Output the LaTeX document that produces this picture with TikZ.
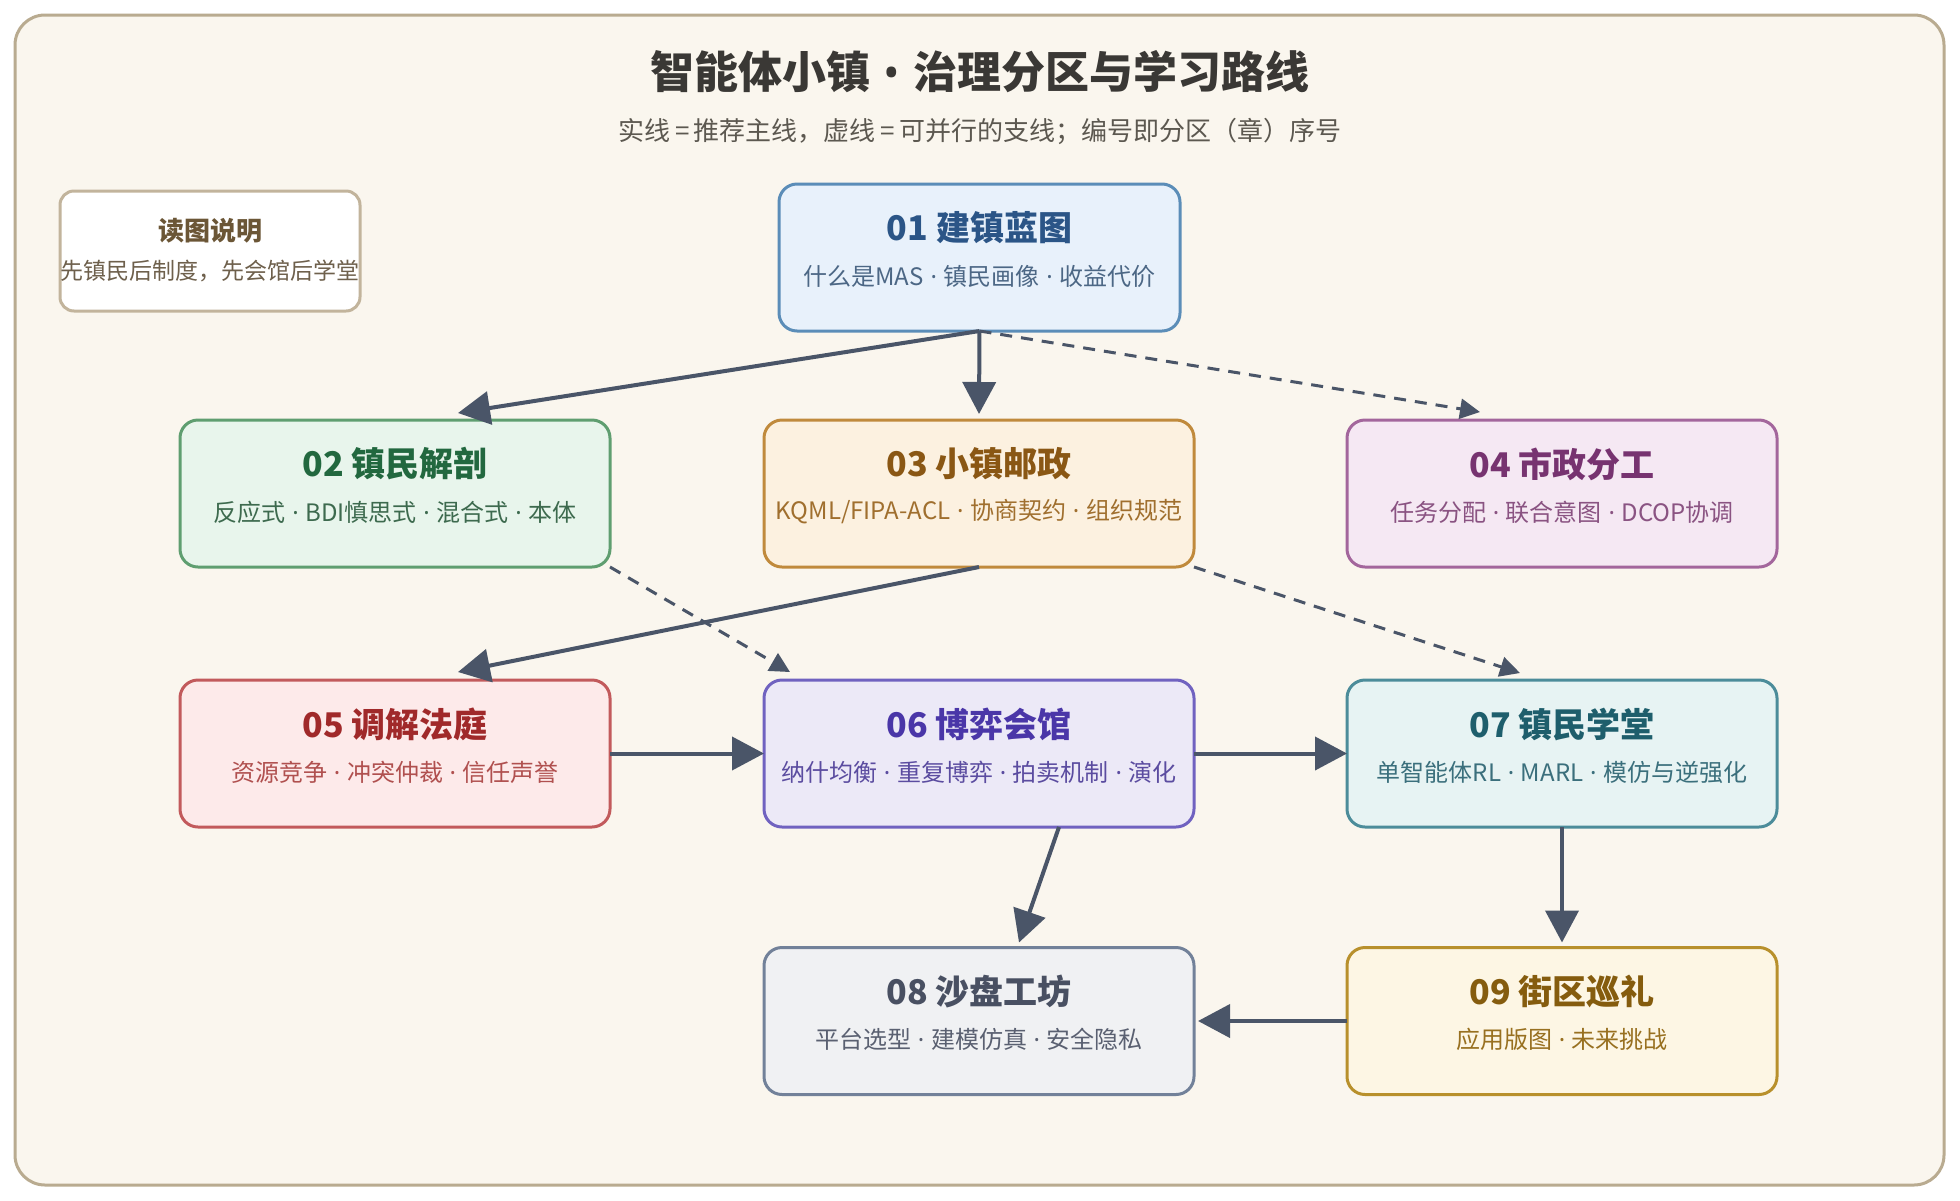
\documentclass[tikz,border=0pt]{standalone}
\usepackage{fontspec}
\setmainfont{Noto Sans CJK SC}
\newfontfamily\latinfont{Noto Sans}
\newcommand\dotsep{\hspace{0.28em}{\latinfont ·}\hspace{0.28em}}
\usetikzlibrary{arrows.meta,calc}

\definecolor{pagebg}{HTML}{FFFFFF}
\definecolor{framefill}{HTML}{FAF6EE}
\definecolor{framedraw}{HTML}{B9AB90}
\definecolor{titlecol}{HTML}{3A3835}
\definecolor{subcol}{HTML}{5C5850}
\definecolor{arrowcol}{HTML}{4A5568}
\definecolor{legdraw}{HTML}{C2B49C}
\definecolor{legtitle}{HTML}{6B5636}
\definecolor{legtext}{HTML}{6E604C}
% box palettes
\definecolor{f01}{HTML}{E8F1FB}\definecolor{d01}{HTML}{5B8DB8}\definecolor{t01}{HTML}{2B5587}\definecolor{s01}{HTML}{4C6785}
\definecolor{f02}{HTML}{E8F5EC}\definecolor{d02}{HTML}{5F9E70}\definecolor{t02}{HTML}{22683F}\definecolor{s02}{HTML}{3D6A4E}
\definecolor{f03}{HTML}{FCF1E0}\definecolor{d03}{HTML}{C08A3C}\definecolor{t03}{HTML}{8A5714}\definecolor{s03}{HTML}{A06F2E}
\definecolor{f04}{HTML}{F5E8F3}\definecolor{d04}{HTML}{A3669C}\definecolor{t04}{HTML}{773370}\definecolor{s04}{HTML}{8A5382}
\definecolor{f05}{HTML}{FDEAEA}\definecolor{d05}{HTML}{C25A5C}\definecolor{t05}{HTML}{A0292A}\definecolor{s05}{HTML}{B0504F}
\definecolor{f06}{HTML}{ECE9F7}\definecolor{d06}{HTML}{7062C0}\definecolor{t06}{HTML}{4A36A8}\definecolor{s06}{HTML}{5B4CA0}
\definecolor{f07}{HTML}{E7F3F3}\definecolor{d07}{HTML}{4C8C9A}\definecolor{t07}{HTML}{1E5E6C}\definecolor{s07}{HTML}{3B6F7C}
\definecolor{f08}{HTML}{F0F1F3}\definecolor{d08}{HTML}{728199}\definecolor{t08}{HTML}{495062}\definecolor{s08}{HTML}{5A6071}
\definecolor{f09}{HTML}{FDF6E4}\definecolor{d09}{HTML}{B8902C}\definecolor{t09}{HTML}{855C0E}\definecolor{s09}{HTML}{987020}

\begin{document}
\begin{tikzpicture}[x=0.5pt,y=-0.5pt,
  zone/.style={draw=#1, line width=1.5pt, rounded corners=9pt,
    minimum width=215pt, minimum height=73.5pt, inner sep=0pt, outer sep=0pt},
  zonetitle/.style={font=\fontsize{17pt}{20pt}\selectfont\bfseries, text=#1, inner sep=0pt},
  zonesub/.style={font=\fontsize{12pt}{14pt}\selectfont, text=#1, inner sep=0pt},
  mainarrow/.style={draw=arrowcol, line width=2pt, -{Triangle[length=16pt,width=16.5pt]}},
  sidearrow/.style={draw=arrowcol, line width=1.5pt, dash pattern=on 6pt off 4.5pt,
    -{Triangle[length=10pt,width=10pt]}}
]
% canvas
\fill[pagebg] (0,0) rectangle (1960,1200);
\useasboundingbox (0,0) rectangle (1960,1200);
\draw[fill=framefill, draw=framedraw, line width=1.5pt, rounded corners=15pt] (15,15) rectangle (1944,1185);

% title
\node[font=\fontsize{22pt}{26pt}\selectfont\bfseries, text=titlecol, inner sep=0pt] (title) at (980,72) {智能体小镇\hspace{0.3em}{\latinfont •}\hspace{0.3em}治理分区与学习路线};
\node[font=\fontsize{13pt}{16pt}\selectfont, text=subcol, inner sep=0pt] (subtitle) at (980,131) {实线\,=\,推荐主线，虚线\,=\,可并行的支线；编号即分区（章）序号};

% legend
\node[draw=legdraw, fill=white, line width=1.5pt, rounded corners=7pt, minimum width=150pt, minimum height=60pt, inner sep=0pt] (legend) at (210,251) {};
\node[font=\fontsize{13pt}{16pt}\selectfont\bfseries, text=legtitle, inner sep=0pt] (legt) at (210,231) {读图说明};
\node[font=\fontsize{11.5pt}{14pt}\selectfont, text=legtext, inner sep=0pt] (legs) at (210,271) {先镇民后制度，先会馆后学堂};

% boxes
\node[zone=d01, fill=f01, minimum width=200.5pt] (b01) at (979.5,257.5) {};
\node[zone=d02, fill=f02] (b02) at (395,493.5) {};
\node[zone=d03, fill=f03] (b03) at (979,493.5) {};
\node[zone=d04, fill=f04] (b04) at (1562,493.5) {};
\node[zone=d05, fill=f05] (b05) at (395,753.5) {};
\node[zone=d06, fill=f06] (b06) at (979,753.5) {};
\node[zone=d07, fill=f07] (b07) at (1562,753.5) {};
\node[zone=d08, fill=f08] (b08) at (979,1021) {};
\node[zone=d09, fill=f09] (b09) at (1562,1021) {};

% box texts
\node[zonetitle=t01] (n01) at ($(b01.north)+(0,44)$) {01 建镇蓝图};
\node[zonesub=s01] (m01) at ($(b01.north)+(0,92)$) {什么是MAS\dotsep 镇民画像\dotsep 收益代价};
\node[zonetitle=t02] (n02) at ($(b02.north)+(0,44)$) {02 镇民解剖};
\node[zonesub=s02] (m02) at ($(b02.north)+(0,92)$) {反应式\dotsep BDI慎思式\dotsep 混合式\dotsep 本体};
\node[zonetitle=t03] (n03) at ($(b03.north)+(0,44)$) {03 小镇邮政};
\node[zonesub=s03] (m03) at ($(b03.north)+(0,92)$) {KQML/FIPA-ACL\dotsep 协商契约\dotsep 组织规范};
\node[zonetitle=t04] (n04) at ($(b04.north)+(0,44)$) {04 市政分工};
\node[zonesub=s04] (m04) at ($(b04.north)+(0,92)$) {任务分配\dotsep 联合意图\dotsep DCOP协调};
\node[zonetitle=t05] (n05) at ($(b05.north)+(0,44)$) {05 调解法庭};
\node[zonesub=s05] (m05) at ($(b05.north)+(0,92)$) {资源竞争\dotsep 冲突仲裁\dotsep 信任声誉};
\node[zonetitle=t06] (n06) at ($(b06.north)+(0,44)$) {06 博弈会馆};
\node[zonesub=s06] (m06) at ($(b06.north)+(0,92)$) {纳什均衡\dotsep 重复博弈\dotsep 拍卖机制\dotsep 演化};
\node[zonetitle=t07] (n07) at ($(b07.north)+(0,44)$) {07 镇民学堂};
\node[zonesub=s07] (m07) at ($(b07.north)+(0,92)$) {单智能体RL\dotsep MARL\dotsep 模仿与逆强化};
\node[zonetitle=t08] (n08) at ($(b08.north)+(0,44)$) {08 沙盘工坊};
\node[zonesub=s08] (m08) at ($(b08.north)+(0,92)$) {平台选型\dotsep 建模仿真\dotsep 安全隐私};
\node[zonetitle=t09] (n09) at ($(b09.north)+(0,44)$) {09 街区巡礼};
\node[zonesub=s09] (m09) at ($(b09.north)+(0,92)$) {应用版图\dotsep 未来挑战};

% connector end points
\coordinate (e02) at ($(b02.north)+(63,-7)$);
\coordinate (e03) at ($(b03.north)+(0,-6)$);
\coordinate (e04) at ($(b04.north)+(-82,-8)$);
\coordinate (e05) at ($(b05.north)+(63,-8)$);
\coordinate (e06) at ($(b06.north west)+(26,-8)$);
\coordinate (e07) at ($(b07.north west)+(173,-7)$);
\coordinate (s0608) at ($(b06.south)+(80,0)$);
\coordinate (e08) at ($(b08.north)+(40,-5)$);
\coordinate (e09) at ($(b09.north)+(0,-5)$);
\coordinate (e0908) at ($(b08.east)+(4,0)$);

% connectors
\draw[mainarrow] (b01.south) -- (e02);
\draw[mainarrow] (b01.south) -- (e03);
\draw[sidearrow] (b01.south) -- (e04);
\draw[mainarrow] (b03.south) -- (e05);
\draw[sidearrow] (b02.south east) -- (e06);
\draw[sidearrow] (b03.south east) -- (e07);
\draw[mainarrow] (b05.east) -- (b06.west);
\draw[mainarrow] (b06.east) -- (b07.west);
\draw[mainarrow] (s0608) -- (e08);
\draw[mainarrow] (b07.south) -- (e09);
\draw[mainarrow] (b09.west) -- (e0908);
\end{tikzpicture}
\end{document}
